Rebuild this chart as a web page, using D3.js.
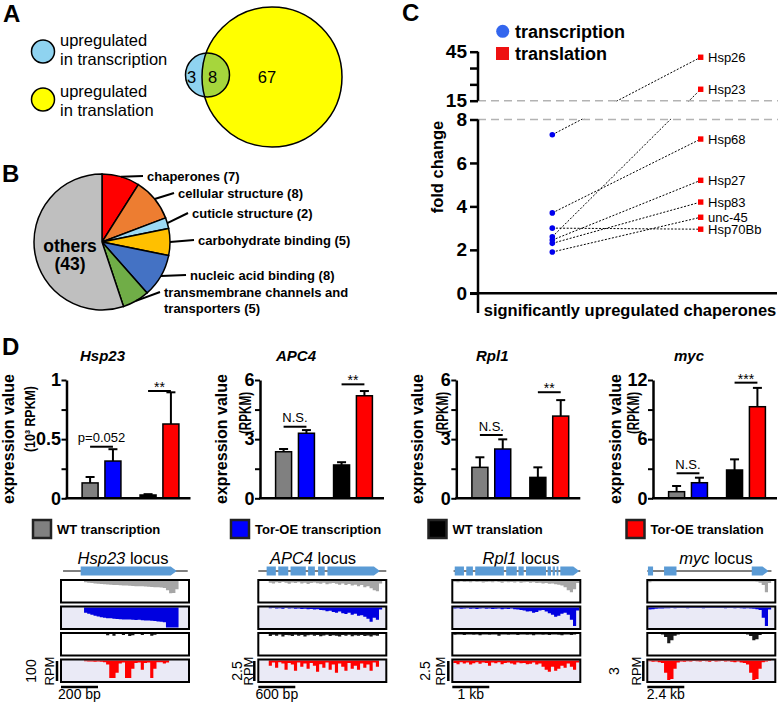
<!DOCTYPE html>
<html>
<head>
<meta charset="utf-8">
<script src="https://cdn.jsdelivr.net/npm/d3@7"></script>
<style>
body { margin: 0; background: #fff; }
svg { display: block; font-family: "Liberation Sans", Arial, Helvetica, sans-serif; }
</style>
</head>
<body>
<svg id="fig" width="778" height="705"></svg>
<script>
// ---- panel A: venn ----
const vennLegend = [['upregulated', 'in transcription'], ['upregulated', 'in translation']];
const vennCounts = [3, 8, 67]; // transcription only, both, translation only

// ---- panel B: pie ----
const pieCategories = ['chaperones', 'cellular structure', 'cuticle structure', 'carbohydrate binding',
    'nucleic acid binding', 'transmembrane channels and transporters', 'others'];
const pieCounts = [7, 8, 2, 5, 8, 5, 43];
const pieColors = ['#ff0000', '#ed7d31', '#9dd9f3', '#ffc000', '#4472c4', '#70ad47', '#bfbfbf'];

// ---- panel C: fold change ----
const chaperones = ['Hsp26', 'Hsp23', 'Hsp68', 'Hsp27', 'Hsp83', 'unc-45', 'Hsp70Bb'];
const transcriptionFold = [7.3, 2.6, 3.7, 2.45, 2.3, 1.9, 3.0];
const translationFold = [41.6, 22, 7.1, 5.2, 4.2, 3.5, 2.95];
const foldTicksLower = [0, 2, 4, 6, 8];
const foldTicksUpper = [15, 25, 35, 45];
const foldTickLabels = [0, 2, 4, 6, 8, 15, 45];

// ---- panel D: expression ----
const genes = ['Hsp23', 'APC4', 'Rpl1', 'myc'];
const conditions = ['WT transcription', 'Tor-OE transcription', 'WT translation', 'Tor-OE translation'];
const condColors = ['#808080', '#0000ff', '#000000', '#ff0000'];
const exprMean = [
    [0.13, 0.315, 0.028, 0.628],
    [2.36, 3.3, 1.69, 5.2],
    [1.57, 2.5, 1.06, 4.17],
    [0.67, 1.58, 2.87, 9.29]
];
const exprErr = [
    [0.05, 0.10, 0.007, 0.268],
    [0.14, 0.16, 0.14, 0.24],
    [0.51, 0.49, 0.51, 0.81],
    [0.58, 0.51, 1.08, 1.91]
];
const exprMax = [1, 6, 6, 12];
const exprTicks = [[0, 0.25, 0.5, 0.75, 1], [0, 1.5, 3, 4.5, 6], [0, 1.5, 3, 4.5, 6], [0, 3, 6, 9, 12]];
const exprTickLabels = [[0, 0.5, 1], [0, 3, 6], [0, 3, 6], [0, 6, 12]];
const exprUnits = ['(10³ RPKM)', '(RPKM)', '(RPKM)', '(RPKM)'];
const sigText = [['p=0.052', '**'], ['N.S.', '**'], ['N.S.', '**'], ['N.S.', '***']];
const sigLevel = [[0.436, 0.907], [3.63, 5.78], [3.21, 5.38], [2.54, 11.73]];

// ---- panel D: loci ----
const rpmScale = ['100', '2.5', '2.5', '3'];
const bpScale = ['200 bp', '600 bp', '1 kb', '2.4 kb'];
const geneSpan = [[1.6, 99], [0, 100], [1, 100], [0, 97]];
const exonsHsp23 = [[15.4, 90.4]];
const exonsAPC4 = [[6.5, 13.7], [15.6, 23.4], [25.2, 37.1], [38.9, 44.2], [46.7, 51.9], [54, 95]];
const exonsRpl1 = [[1.9, 9.1], [10.9, 16.1], [17.9, 40.3], [42.1, 50.4], [51.7, 55.8], [57.6, 73.2],
    [74.5, 77.1], [78.4, 80.2], [81.5, 82.9], [84.4, 99.2]];
const exonsMyc = [[0.5, 4.5], [13.1, 22.8], [81.6, 94.7]];
const exons = [exonsHsp23, exonsAPC4, exonsRpl1, exonsMyc];

// coverage depth (% of track height), 40 bins across each locus
const covHsp23 = [
    [0,0,0,0,0,0,0,6,8,10,12,14,15,16,17,18,19,20,21,22,22,23,24,25,25,26,27,28,29,30,31,32,34,45,60,58,40,0,0,0],
    [0,0,0,0,0,0,0,25,30,35,40,44,47,50,52,53,55,56,57,58,58,59,60,61,60,62,63,64,65,66,68,70,72,97,97,97,97,0,0,0],
    [0,0,0,0,0,0,0,0,0,0,0,0,0,0,6,0,8,0,0,5,0,10,6,0,0,5,0,0,8,4,0,0,0,0,0,0,0,0,0,0],
    [0,0,0,0,0,0,0,4,5,5,6,5,6,8,20,85,85,60,15,10,85,85,40,12,10,45,12,10,85,40,8,8,15,10,0,0,0,0,0,0]
];
const covAPC4 = [
    [0,0,0,8,12,6,10,5,9,14,7,10,6,12,8,15,10,7,11,13,9,16,12,10,14,18,12,20,15,22,18,25,20,30,26,35,45,50,12,0],
    [0,0,0,4,3,5,4,6,3,5,4,6,5,7,6,8,7,10,8,12,14,18,16,22,25,20,28,32,26,35,30,40,38,45,55,70,50,60,10,0],
    [0,0,0,10,4,8,3,12,5,6,10,4,8,5,12,6,4,9,5,11,7,4,10,6,8,12,5,9,4,11,6,8,5,10,7,12,6,9,0,0],
    [0,0,0,25,10,35,8,15,45,12,20,50,10,30,15,40,12,25,55,18,35,10,45,20,60,15,30,50,12,40,25,45,15,35,20,50,10,30,0,0]
];
const covRpl1 = [
    [4,6,3,5,4,6,3,5,4,7,5,4,6,3,5,8,4,6,5,7,4,8,6,5,9,6,10,8,12,10,14,12,16,18,22,30,45,55,40,10],
    [5,4,6,5,4,6,5,7,5,4,6,5,7,6,5,8,6,7,5,8,10,12,15,20,18,25,22,15,12,20,28,35,45,40,30,25,35,60,90,15],
    [4,3,2,5,3,2,4,3,6,2,3,4,2,3,8,3,2,4,3,2,5,3,2,4,3,6,3,2,4,3,5,2,3,4,6,3,2,5,3,0],
    [12,18,8,15,10,20,14,8,16,10,12,25,10,14,8,18,12,10,15,20,10,14,12,18,16,10,20,15,30,45,55,30,50,40,25,35,15,30,45,10]
];
const covMyc = [
    [6,3,2,2,2,2,3,2,2,2,2,2,2,2,2,2,2,2,2,2,2,2,2,2,2,2,3,2,2,3,2,3,2,3,4,8,20,55,10,0],
    [10,8,6,5,5,4,4,3,4,3,3,3,4,3,3,3,3,4,3,3,3,3,3,3,4,3,3,4,3,4,5,4,5,6,8,12,50,90,10,0],
    [0,0,0,0,2,15,45,30,8,2,0,0,0,0,0,0,0,0,0,0,0,0,0,0,0,0,0,0,0,0,0,2,10,30,25,5,0,0,0,0],
    [4,6,5,8,12,60,95,90,40,10,5,6,4,5,3,4,5,3,4,6,3,5,4,3,5,4,6,8,5,10,12,20,60,95,90,40,8,5,3,0]
];
const coverage = [covHsp23, covAPC4, covRpl1, covMyc];

const svg = d3.select('#fig');

// panel letters
[['A', 3, 22], ['B', 2, 182], ['C', 402, 21], ['D', 2, 355]].forEach(([t, x, y]) => {
    svg.append('text').attr('x', x).attr('y', y).attr('font-size', 24).attr('font-weight', 'bold').text(t);
});

// ================= A =================
const gA = svg.append('g');
const legendFill = ['#8fd3f0', '#ffff00'];
[[51.5, 46, 65], [99.5, 97, 116]].forEach(([cy, b1, b2], i) => {
    gA.append('circle').attr('cx', 43).attr('cy', cy).attr('r', 11.5)
        .attr('fill', legendFill[i]).attr('stroke', '#000').attr('stroke-width', 1.5);
    gA.append('text').attr('x', 60).attr('y', b1).attr('font-size', 16.5).text(vennLegend[i][0]);
    gA.append('text').attr('x', 60).attr('y', b2).attr('font-size', 16.5).text(vennLegend[i][1]);
});
const big = {cx: 272, cy: 77, r: 70};
const small = {cx: 207.5, cy: 75, r: 22};
gA.append('circle').attr('cx', big.cx).attr('cy', big.cy).attr('r', big.r).attr('fill', '#ffff00');
gA.append('circle').attr('cx', small.cx).attr('cy', small.cy).attr('r', small.r).attr('fill', legendFill[0]);
svg.append('clipPath').attr('id', 'bigClip').append('circle')
    .attr('cx', big.cx).attr('cy', big.cy).attr('r', big.r);
gA.append('circle').attr('cx', small.cx).attr('cy', small.cy).attr('r', small.r)
    .attr('fill', '#a6d63c').attr('clip-path', 'url(#bigClip)');
[big, small].forEach(c => {
    gA.append('circle').attr('cx', c.cx).attr('cy', c.cy).attr('r', c.r)
        .attr('fill', 'none').attr('stroke', '#000').attr('stroke-width', 1.5);
});
[[191.5, vennCounts[0]], [212.5, vennCounts[1]], [267, vennCounts[2]]].forEach(([x, v]) => {
    gA.append('text').attr('x', x).attr('y', 83).attr('text-anchor', 'middle').attr('font-size', 16.5).text(v);
});

// ================= B =================
const pc = {x: 102, y: 242, r: 68};
const gB = svg.append('g').attr('transform', `translate(${pc.x},${pc.y})`);
const slices = d3.pie().sort(null).value(d => d)(pieCounts);
const arc = d3.arc().innerRadius(0).outerRadius(pc.r);
gB.selectAll('path.slice').data(slices).join('path')
    .attr('d', arc).attr('fill', (d, i) => pieColors[i])
    .attr('stroke', '#000').attr('stroke-width', 1.5);
gB.append('text').attr('x', -32).attr('y', 10).attr('text-anchor', 'middle')
    .attr('font-size', 17.5).attr('font-weight', 'bold').text(pieCategories[6]);
gB.append('text').attr('x', -32).attr('y', 28).attr('text-anchor', 'middle')
    .attr('font-size', 17.5).attr('font-weight', 'bold').text(`(${pieCounts[6]})`);

const labelPos = [[147, 176], [178, 193], [192, 213], [198, 240], [190, 275], [164, 292]];
slices.slice(0, 6).forEach((s, i) => {
    const a = (s.startAngle + s.endAngle) / 2;
    const sx = pc.x + pc.r * Math.sin(a), sy = pc.y - pc.r * Math.cos(a);
    const [tx, ly] = labelPos[i];
    svg.append('line').attr('x1', sx).attr('y1', sy).attr('x2', tx - 4).attr('y2', ly)
        .attr('stroke', '#000').attr('stroke-width', 2);
    const t = svg.append('text').attr('font-size', 13).attr('font-weight', 'bold');
    if (i === 5) {
        t.append('tspan').attr('x', tx).attr('y', ly + 4.5).text('transmembrane channels and');
        t.append('tspan').attr('x', tx).attr('y', ly + 20.5).text(`transporters (${pieCounts[i]})`);
    } else {
        t.attr('x', tx).attr('y', ly + 4.5).text(`${pieCategories[i]} (${pieCounts[i]})`);
    }
});

// ================= C =================
const gC = svg.append('g');
const yFold = d3.scaleLinear().domain([0, 8, 15, 45]).range([293.3, 119.5, 100.7, 51.7]);
const xFold = d3.scalePoint().domain(['transcription', 'translation']).range([552.3, 700.7]);
const axX = 478;

chaperones.forEach((c, i) => {
    gC.append('line')
        .attr('x1', xFold('transcription')).attr('y1', yFold(transcriptionFold[i]))
        .attr('x2', xFold('translation')).attr('y2', yFold(translationFold[i]))
        .attr('stroke', '#000').attr('stroke-width', 1).attr('stroke-dasharray', '2,1.6');
});
// axis break gap
gC.append('rect').attr('x', axX + 1).attr('y', yFold(15) + 0.8)
    .attr('width', 778 - axX).attr('height', yFold(8) - yFold(15) - 1.6).attr('fill', '#fff');
[15, 8].forEach(v => {
    gC.append('line').attr('x1', axX).attr('x2', 778).attr('y1', yFold(v)).attr('y2', yFold(v))
        .attr('stroke', '#b3b3b3').attr('stroke-width', 1.6).attr('stroke-dasharray', '8,5');
});

const styleAxis = (sel, fs) => {
    sel.select('.domain').remove();
    sel.selectAll('.tick line').attr('stroke', '#000').attr('stroke-width', 2.5);
    sel.selectAll('.tick text').attr('fill', '#000').attr('font-size', fs).attr('font-weight', 'bold')
        .attr('font-family', '"Liberation Sans", Arial, sans-serif');
};
const foldFmt = v => foldTickLabels.includes(v) ? String(v) : '';
gC.append('g').attr('transform', `translate(${axX},0)`)
    .call(d3.axisLeft(yFold).tickValues(foldTicksLower).tickSize(8).tickPadding(3).tickFormat(foldFmt))
    .call(s => styleAxis(s, 19));
gC.append('g').attr('transform', `translate(${axX},0)`)
    .call(d3.axisLeft(yFold).tickValues(foldTicksUpper).tickSize(8).tickPadding(3).tickFormat(foldFmt))
    .call(s => styleAxis(s, 19));
gC.append('line').attr('x1', axX).attr('x2', axX).attr('y1', yFold(45)).attr('y2', yFold(15))
    .attr('stroke', '#000').attr('stroke-width', 2.5);
gC.append('line').attr('x1', axX).attr('x2', axX).attr('y1', yFold(8)).attr('y2', 313)
    .attr('stroke', '#000').attr('stroke-width', 2.5);
gC.append('line').attr('x1', axX - 8).attr('x2', 777).attr('y1', yFold(0)).attr('y2', yFold(0))
    .attr('stroke', '#000').attr('stroke-width', 2.5);

gC.append('text').attr('transform', 'translate(437,167) rotate(-90)').attr('dy', '0.35em')
    .attr('text-anchor', 'middle').attr('font-size', 16.5).attr('font-weight', 'bold').text('fold change');
gC.append('text').attr('x', 630).attr('y', 316).attr('text-anchor', 'middle')
    .attr('font-size', 16.5).attr('font-weight', 'bold').text('significantly upregulated chaperones');

gC.selectAll('circle.tr').data(transcriptionFold).join('circle')
    .attr('cx', xFold('transcription')).attr('cy', d => yFold(d)).attr('r', 2.8).attr('fill', '#0000ee');
gC.selectAll('rect.tl').data(translationFold).join('rect')
    .attr('x', xFold('translation') - 2.7).attr('y', d => yFold(d) - 2.7)
    .attr('width', 5.4).attr('height', 5.4).attr('fill', '#ff0000');
chaperones.forEach((c, i) => {
    gC.append('text').attr('x', 708).attr('y', yFold(translationFold[i])).attr('dy', '0.35em')
        .attr('font-size', 13).text(c);
});
// legend
gC.append('circle').attr('cx', 502.7).attr('cy', 31.3).attr('r', 6.5).attr('fill', '#3366ee');
gC.append('rect').attr('x', 496).attr('y', 47).attr('width', 13).attr('height', 13).attr('fill', '#ee1111');
gC.append('text').attr('x', 515).attr('y', 37.5).attr('font-size', 18).attr('font-weight', 'bold').text('transcription');
gC.append('text').attr('x', 515).attr('y', 60).attr('font-size', 18).attr('font-weight', 'bold').text('translation');

// ================= D: bar charts =================
const dAxisX = [66.5, 260, 456.3, 653];
const yLab1Off = [-58, -39, -39, -38];
const yLab2Off = [-37, -15, -14, -20];
genes.forEach((gene, gi) => {
    const g = svg.append('g').attr('transform', `translate(${dAxisX[gi]},0)`);
    const y = d3.scaleLinear().domain([0, exprMax[gi]]).range([498.3, 380]);
    const xGroup = d3.scaleBand().domain(['transcription', 'translation']).range([4, 124])
        .paddingInner(0.33).paddingOuter(0.2);
    const xSub = d3.scaleBand().domain(['WT', 'Tor-OE']).range([0, xGroup.bandwidth()]).paddingInner(0.3);
    const barX = i => xGroup(i < 2 ? 'transcription' : 'translation') + xSub(i % 2 === 0 ? 'WT' : 'Tor-OE');
    const bw = xSub.bandwidth();

    g.append('text').attr('x', 36).attr('y', 361).attr('text-anchor', 'middle')
        .attr('font-size', 15).attr('font-weight', 'bold').attr('font-style', 'italic').text(gene);

    g.selectAll('rect.bar').data(exprMean[gi]).join('rect')
        .attr('x', (d, i) => barX(i)).attr('y', d => y(d))
        .attr('width', bw).attr('height', d => y(0) - y(d))
        .attr('fill', (d, i) => condColors[i]).attr('stroke', '#000').attr('stroke-width', 1.5);
    exprMean[gi].forEach((m, i) => {
        const cx = barX(i) + bw / 2, top = y(m + exprErr[gi][i]);
        g.append('line').attr('x1', cx).attr('x2', cx).attr('y1', y(m)).attr('y2', top)
            .attr('stroke', '#000').attr('stroke-width', 2);
        g.append('line').attr('x1', cx - 4.5).attr('x2', cx + 4.5).attr('y1', top).attr('y2', top)
            .attr('stroke', '#000').attr('stroke-width', 2);
    });

    sigText[gi].forEach((t, k) => {
        const x1 = barX(2 * k) + bw / 2, x2 = barX(2 * k + 1) + bw / 2, ly = y(sigLevel[gi][k]);
        g.append('line').attr('x1', x1).attr('x2', x2).attr('y1', ly).attr('y2', ly)
            .attr('stroke', '#000').attr('stroke-width', 2);
        const star = t.startsWith('*');
        g.append('text').attr('x', (x1 + x2) / 2).attr('y', star ? ly + 1 : ly - 4.5)
            .attr('text-anchor', 'middle').attr('font-size', star ? 14 : 13).text(t);
    });

    g.append('g')
        .call(d3.axisLeft(y).tickValues(exprTicks[gi]).tickSize(5).tickSizeOuter(0).tickPadding(0.5)
            .tickFormat(v => exprTickLabels[gi].includes(v) ? d3.format('~g')(v) : ''))
        .call(s => {
            s.select('.domain').attr('stroke', '#000').attr('stroke-width', 2.5);
            s.selectAll('.tick line').attr('stroke', '#000').attr('stroke-width', 2);
            s.selectAll('.tick text').attr('fill', '#000').attr('font-size', 18).attr('font-weight', 'bold')
                .attr('font-family', '"Liberation Sans", Arial, sans-serif');
        });
    g.append('line').attr('x1', -1).attr('x2', 124).attr('y1', y(0)).attr('y2', y(0))
        .attr('stroke', '#000').attr('stroke-width', 2.5);

    g.append('text').attr('transform', `translate(${yLab1Off[gi]},439) rotate(-90)`).attr('dy', '0.35em')
        .attr('text-anchor', 'middle').attr('font-size', 16).attr('font-weight', 'bold').text('expression value');
    g.append('text').attr('transform', `translate(${yLab2Off[gi]},${gi === 0 ? 419 : 413}) rotate(-90)`)
        .attr('dy', '0.35em').attr('text-anchor', 'middle').attr('font-size', gi === 0 ? 15 : 16)
        .attr('font-weight', 'bold')
        .attr('textLength', gi === 0 ? 66 : 42).attr('lengthAdjust', 'spacingAndGlyphs').text(exprUnits[gi]);
});

// legend row
const legX = [33, 231, 428.5, 626.5];
conditions.forEach((c, i) => {
    svg.append('rect').attr('x', legX[i]).attr('y', 520).attr('width', 18).attr('height', 18)
        .attr('fill', condColors[i]).attr('stroke', '#222').attr('stroke-width', 2.5);
    svg.append('text').attr('x', legX[i] + 24).attr('y', 534).attr('font-size', 13)
        .attr('font-weight', 'bold').text(c);
});

// ================= D: loci =================
const boxX = [61, 258.3, 452.3, 647.3];
const boxW = 128;
const trackTop = [580, 606.5, 633, 659.5];
const trackH = 22.5;
const trackBg = ['#ffffff', '#eaeaf6', '#ffffff', '#eaeaf6'];
const trackFill = ['#a6a6a6', '#0000e0', '#1a1a1a', '#ff0000'];
const titleX = [123, 313, 521, 716];
const numOff = [-30, -21, -27, -33];
const rpmOff = [-12, -10, -12, -11];

genes.forEach((gene, gi) => {
    const x0 = boxX[gi];
    const xs = d3.scaleLinear().domain([0, 100]).range([x0, x0 + boxW]);
    const g = svg.append('g');

    const title = g.append('text').attr('x', titleX[gi]).attr('y', 563.5).attr('text-anchor', 'middle')
        .attr('font-size', 16.5);
    title.append('tspan').attr('font-style', 'italic').text(gene);
    title.append('tspan').text(' locus');

    const gy = 571;
    g.append('line').attr('x1', xs(geneSpan[gi][0])).attr('x2', xs(geneSpan[gi][1]))
        .attr('y1', gy).attr('y2', gy).attr('stroke', '#000').attr('stroke-width', 1);
    exons[gi].forEach(([a, b], k) => {
        const ex1 = xs(a), ex2 = xs(b), h = 4.5;
        if (k === exons[gi].length - 1 && ex2 - ex1 > 8) {
            g.append('path')
                .attr('d', `M${ex1},${gy - h}H${ex2 - 6}L${ex2},${gy}L${ex2 - 6},${gy + h}H${ex1}Z`)
                .attr('fill', '#5b9bd5');
        } else {
            g.append('rect').attr('x', ex1).attr('y', gy - h).attr('width', ex2 - ex1).attr('height', 2 * h)
                .attr('fill', '#5b9bd5');
        }
    });

    coverage[gi].forEach((vals, ti) => {
        const top = trackTop[ti];
        g.append('rect').attr('x', x0).attr('y', top).attr('width', boxW).attr('height', trackH)
            .attr('fill', trackBg[ti]);
        const xb = d3.scaleLinear().domain([0, vals.length]).range([x0 + 1, x0 + boxW - 1]);
        const yd = d3.scaleLinear().domain([0, 100]).range([top + 1, top + trackH - 1]);
        const pts = vals.map((v, i) => [i, v]).concat([[vals.length, 0]]);
        g.append('path').datum(pts)
            .attr('d', d3.area().curve(d3.curveStepAfter).x(d => xb(d[0])).y0(yd(0)).y1(d => yd(d[1])))
            .attr('fill', trackFill[ti]);
        g.append('rect').attr('x', x0).attr('y', top).attr('width', boxW).attr('height', trackH)
            .attr('fill', 'none').attr('stroke', '#000').attr('stroke-width', 2);
    });

    // scale bars
    g.append('line').attr('x1', x0 - 4).attr('x2', x0 - 4).attr('y1', 661).attr('y2', 681)
        .attr('stroke', '#000').attr('stroke-width', 2.5);
    g.append('text').attr('transform', `translate(${x0 + numOff[gi]},671) rotate(-90)`).attr('dy', '0.35em')
        .attr('text-anchor', 'middle').attr('font-size', 14).text(rpmScale[gi]);
    g.append('text').attr('transform', `translate(${x0 + rpmOff[gi]},671) rotate(-90)`).attr('dy', '0.35em')
        .attr('text-anchor', 'middle').attr('font-size', 13).text('RPM');
    g.append('line').attr('x1', x0).attr('x2', x0 + 37).attr('y1', 687).attr('y2', 687)
        .attr('stroke', '#000').attr('stroke-width', 2.5);
    g.append('text').attr('x', x0 + 18.5).attr('y', 699).attr('text-anchor', 'middle')
        .attr('font-size', 14).text(bpScale[gi]);
});
</script>
</body>
</html>
